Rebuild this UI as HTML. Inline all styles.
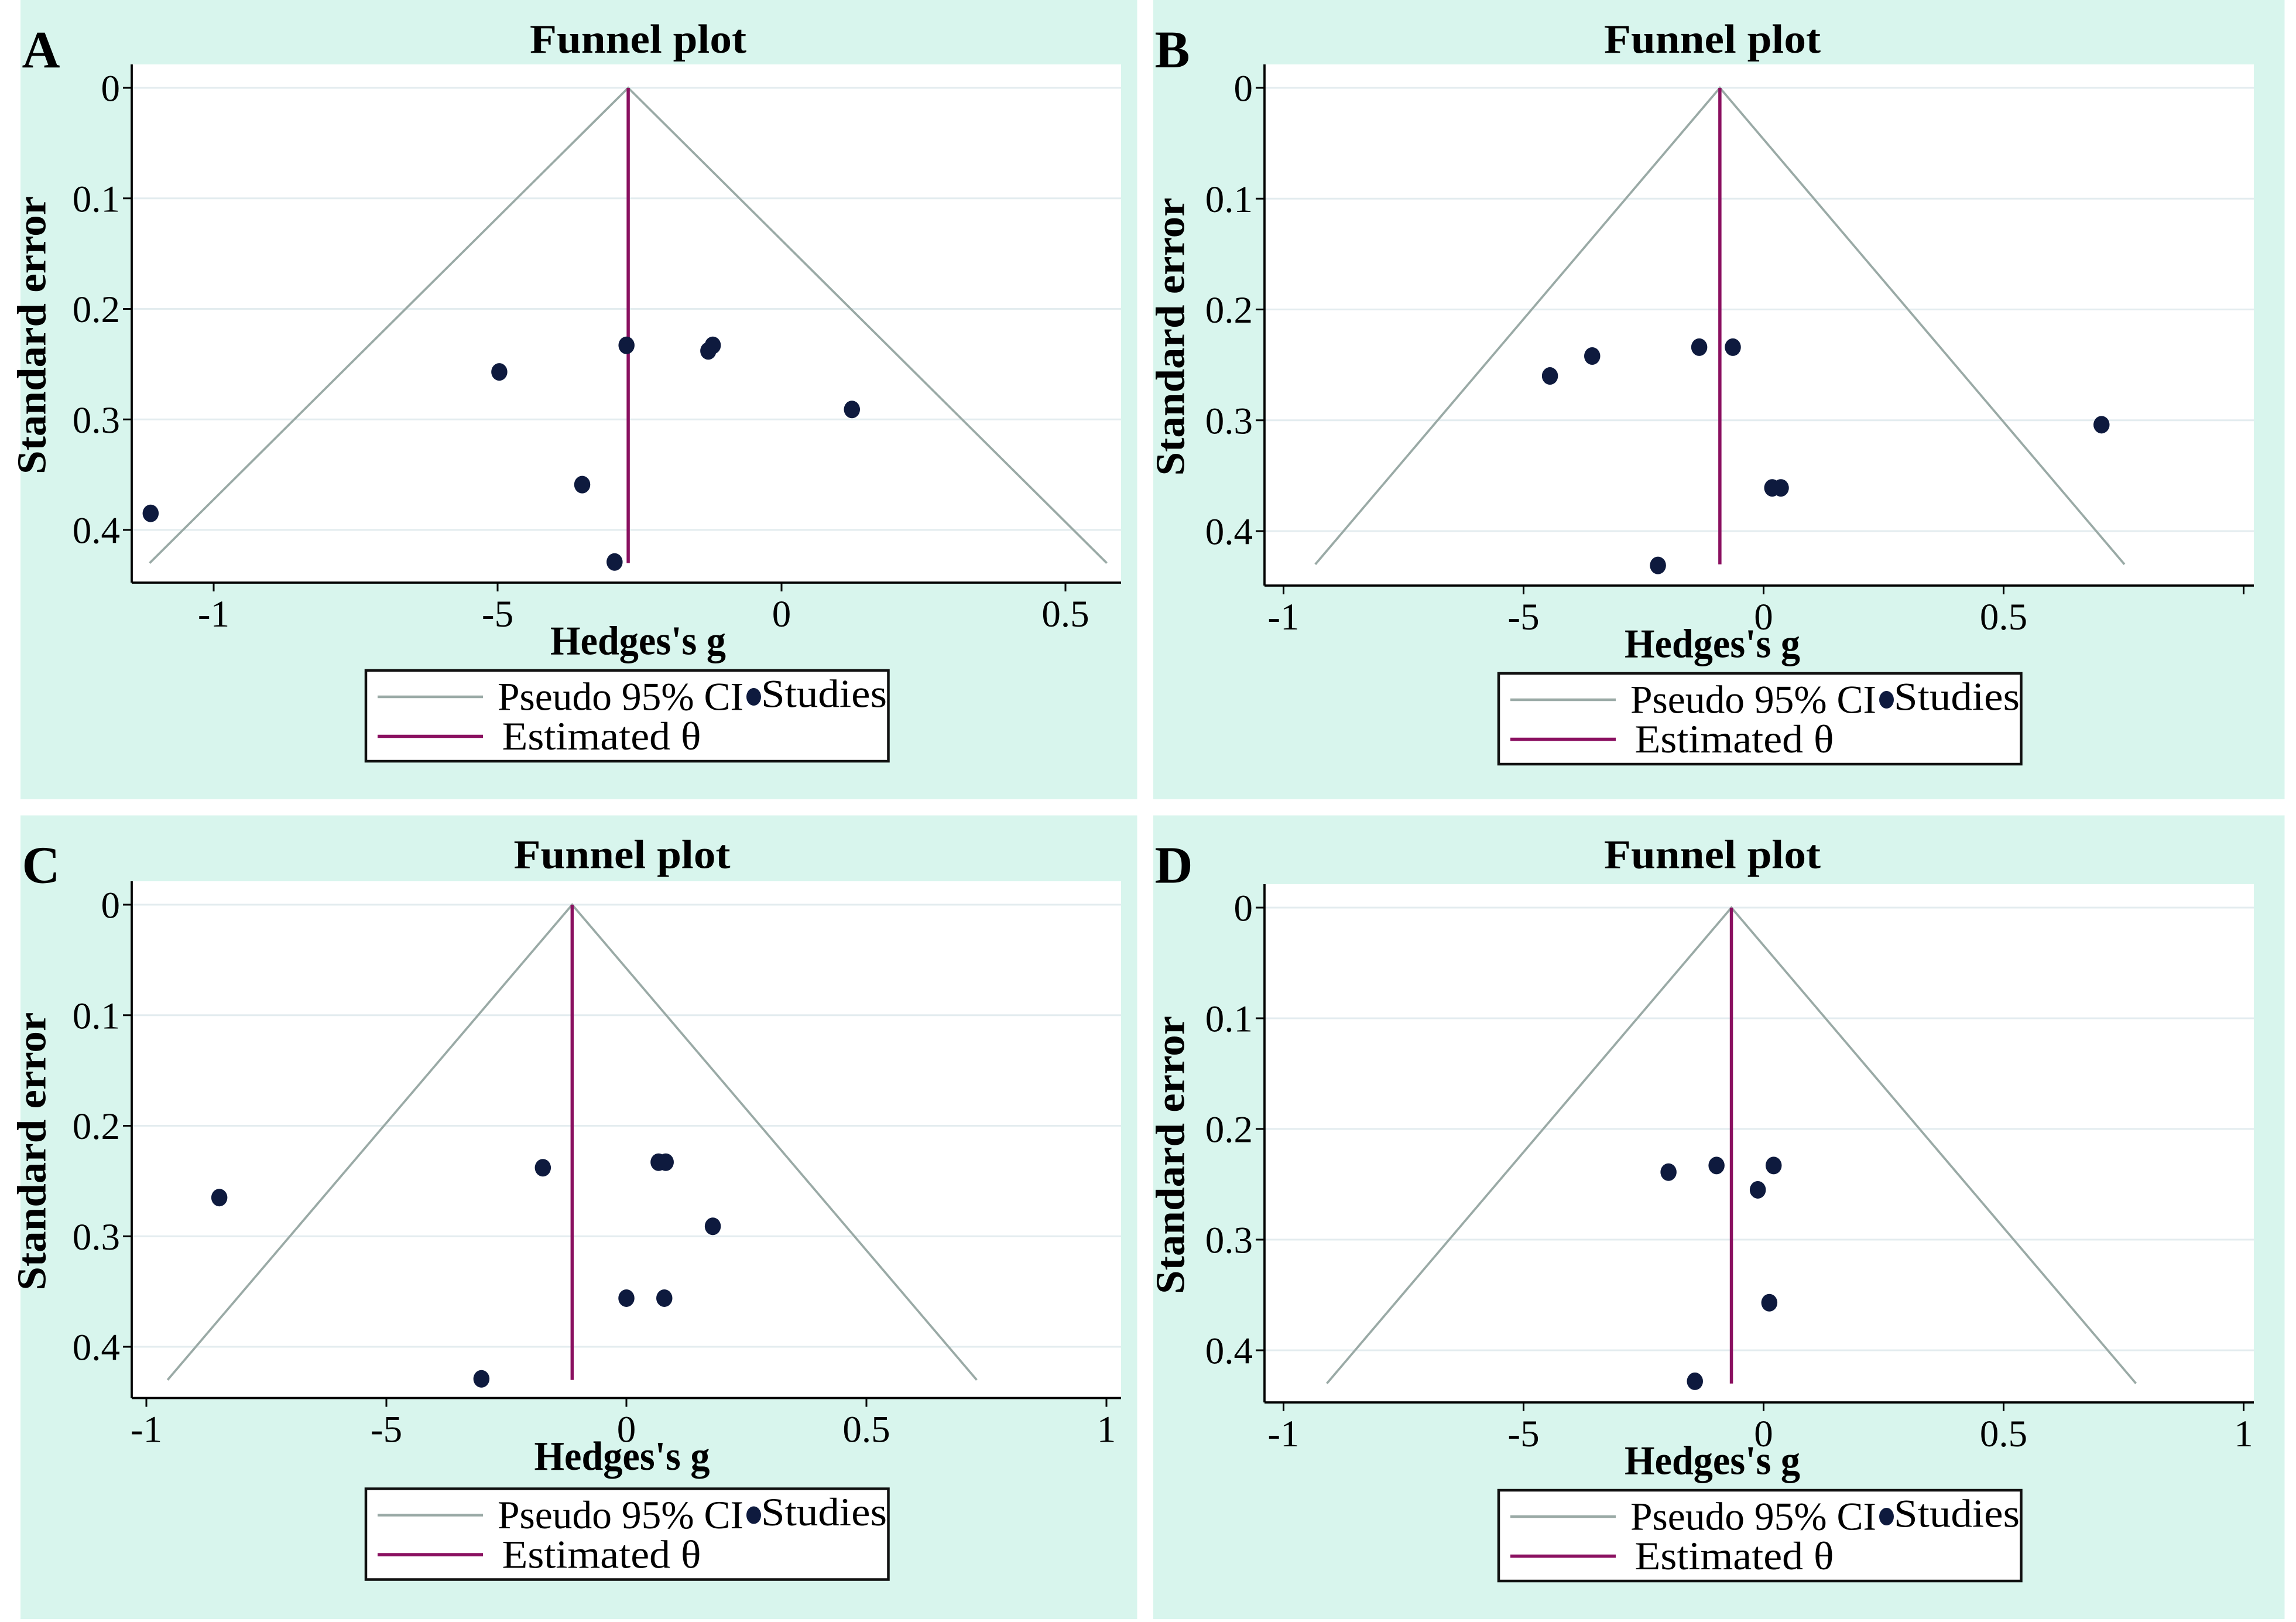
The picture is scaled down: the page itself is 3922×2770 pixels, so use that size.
<!DOCTYPE html>
<html><head><meta charset="utf-8"><style>
html,body{margin:0;padding:0;background:#fff;}
svg{display:block;}
text{font-family:"Liberation Serif",serif;fill:#000;}
</style></head><body>
<svg id="chart" xmlns="http://www.w3.org/2000/svg" width="3922" height="2770" viewBox="0 0 1568.8 1108"></svg>
<script>
// ---- data ----
const panelLetters = ["A","B","C","D"];
const thetaValues = [-0.27, -0.091, -0.113, -0.067];
const seMaxFunnel = 0.43;
const yTicks = [0, 0.1, 0.2, 0.3, 0.4];
const yTickLabels = ["0","0.1","0.2","0.3","0.4"];
const xTicksA = [-1, -0.5, 0, 0.5];
const xTickLabelsA = ["-1","-5","0","0.5"];
const xTicksB = [-1, -0.5, 0, 0.5, 1];
const xTickLabelsB = ["-1","-5","0","0.5",""];
const xTicksC = [-1, -0.5, 0, 0.5, 1];
const xTickLabelsC = ["-1","-5","0","0.5","1"];
const xTicksD = [-1, -0.5, 0, 0.5, 1];
const xTickLabelsD = ["-1","-5","0","0.5","1"];
const gA = [-1.111, -0.497, -0.273, -0.129, -0.121, 0.124, -0.351, -0.294];
const seA = [0.385, 0.257, 0.233, 0.238, 0.233, 0.291, 0.359, 0.429];
const gB = [-0.445, -0.357, -0.134, -0.064, 0.704, 0.018, 0.036, -0.22];
const seB = [0.260, 0.242, 0.234, 0.234, 0.304, 0.361, 0.361, 0.431];
const gC = [-0.848, -0.174, 0.067, 0.082, 0.18, 0.0, 0.079, -0.302];
const seC = [0.265, 0.238, 0.233, 0.233, 0.291, 0.356, 0.356, 0.429];
const gD = [-0.198, -0.098, 0.021, -0.012, 0.012, -0.143];
const seD = [0.239, 0.233, 0.233, 0.255, 0.357, 0.428];

// ---- layout (pixels, not data) ----
const layouts = [
 {bx:14,by:0,bw:763,bh:546, px0:90,px1:766,py0:44,py1:398, x0px:534,xUnit:388, y0px:60,yUnit:755, lx:250,ly:458, cx:436, ylx:22},
 {bx:788,by:0,bw:773,bh:546, px0:864,px1:1540,py0:44,py1:400, x0px:1205,xUnit:328, y0px:60,yUnit:757, lx:1024,ly:460, cx:1170, ylx:800},
 {bx:14,by:557,bw:763,bh:549, px0:90,px1:766,py0:602,py1:955, x0px:428,xUnit:328, y0px:618,yUnit:755, lx:250,ly:1017, cx:425, ylx:22},
 {bx:788,by:557,bw:773,bh:549, px0:864,px1:1540,py0:604,py1:958, x0px:1205,xUnit:328, y0px:620,yUnit:756, lx:1024,ly:1018, cx:1170, ylx:800}
];
const xTickSets = [xTicksA, xTicksB, xTicksC, xTicksD];
const xLabelSets = [xTickLabelsA, xTickLabelsB, xTickLabelsC, xTickLabelsD];
const gSets = [gA, gB, gC, gD];
const seSets = [seA, seB, seC, seD];

const NS = "http://www.w3.org/2000/svg";
const svg = document.getElementById("chart");
function mk(tag, attrs, parent, txt){
  const e = document.createElementNS(NS, tag);
  for (const k in attrs) e.setAttribute(k, attrs[k]);
  if (txt !== undefined) e.textContent = txt;
  (parent || svg).appendChild(e);
  return e;
}
const letterNames = ["a","b","c","d"];
layouts.forEach((L, i) => {
  const xs = v => L.x0px + v * L.xUnit;
  const ys = v => L.y0px + v * L.yUnit;
  const g = mk("g", {});
  
  
  const bg = mk("rect", {x:L.bx, y:L.by, width:L.bw, height:L.bh, fill:"#d8f5ed"}, g);
  
  
  const pa = mk("rect", {x:L.px0, y:L.py0, width:L.px1-L.px0, height:L.py1-L.py0, fill:"#fff"}, g);
  
  
  const lt = mk("text", {x:L.bx+1, y:L.by+46, "font-size":36, "font-weight":"bold"}, g, panelLetters[i]);
  
  
  const tt = mk("text", {x:L.cx, y:L.by+36, "font-size":28, "font-weight":"bold", "text-anchor":"middle", textLength:148, lengthAdjust:"spacingAndGlyphs"}, g, "Funnel plot");
  
  
  yTicks.forEach((t, k) => {
    const y = ys(t);
    const gl = mk("line", {x1:L.px0, x2:L.px1, y1:y, y2:y, stroke:"#e3ecef", "stroke-width":1.2}, g);
    
    
    const tk = mk("line", {x1:L.px0-6, x2:L.px0, y1:y, y2:y, stroke:"#000", "stroke-width":1.2}, g);
    
    
    const tl = mk("text", {x:L.px0-8, y:y+9, "font-size":26, "text-anchor":"end"}, g, yTickLabels[k]);
    
    
  });
  const ya = mk("line", {x1:L.px0, x2:L.px0, y1:L.py0, y2:L.py1, stroke:"#000", "stroke-width":1.5}, g);
  
  
  const xa = mk("line", {x1:L.px0, x2:L.px1, y1:L.py1, y2:L.py1, stroke:"#000", "stroke-width":1.5}, g);
  
  
  xTickSets[i].forEach((t, k) => {
    const x = xs(t);
    const tk = mk("line", {x1:x, x2:x, y1:L.py1, y2:L.py1+6, stroke:"#000", "stroke-width":1.2}, g);
    
    
    const tl = mk("text", {x:x, y:L.py1+30, "font-size":26, "text-anchor":"middle"}, g, xLabelSets[i][k]);
    
    
  });
  const xt = mk("text", {x:L.cx, y:L.py1+49, "font-size":28, "font-weight":"bold", "text-anchor":"middle", textLength:120, lengthAdjust:"spacingAndGlyphs"}, g, "Hedges's g");
  
  
  const ycy = (L.py0 + L.py1) / 2 + 8;
  const yt = mk("text", {x:L.ylx+9, y:ycy, "font-size":28, "font-weight":"bold", "text-anchor":"middle", textLength:190, lengthAdjust:"spacingAndGlyphs", transform:`rotate(-90 ${L.ylx+9} ${ycy})`}, g, "Standard error");
  
  
  const th = thetaValues[i];
  const hw = 1.96 * seMaxFunnel;
  const fp = mk("polyline", {points:`${xs(th-hw)},${ys(seMaxFunnel)} ${xs(th)},${ys(0)} ${xs(th+hw)},${ys(seMaxFunnel)}`, fill:"none", stroke:"#9aaaa6", "stroke-width":1.5}, g);
  
  
  const tl = mk("line", {x1:xs(th), x2:xs(th), y1:ys(0), y2:ys(seMaxFunnel), stroke:"#8a1060", "stroke-width":2.2}, g);
  
  
  gSets[i].forEach((v, k) => {
    const c = mk("ellipse", {cx:xs(v), cy:ys(seSets[i][k]), rx:5.5, ry:6, fill:"#0e1a3e"}, g);
    
    
  });
  const lg = mk("g", {}, g);
  
  
  mk("rect", {x:L.lx, y:L.ly, width:357, height:62, fill:"#fff", stroke:"#111", "stroke-width":1.8}, lg);
  mk("line", {x1:L.lx+8, x2:L.lx+80, y1:L.ly+18, y2:L.ly+18, stroke:"#9aaaa6", "stroke-width":1.8}, lg);
  const t1 = mk("text", {x:L.lx+90, y:L.ly+27, "font-size":27, textLength:168, lengthAdjust:"spacingAndGlyphs"}, lg, "Pseudo 95% CI");
  
  
  mk("ellipse", {cx:L.lx+265, cy:L.ly+18, rx:5, ry:6, fill:"#0e1a3e"}, lg);
  const t2 = mk("text", {x:L.lx+270, y:L.ly+25, "font-size":27, textLength:86, lengthAdjust:"spacingAndGlyphs"}, lg, "Studies");
  
  
  mk("line", {x1:L.lx+8, x2:L.lx+80, y1:L.ly+45, y2:L.ly+45, stroke:"#8a1060", "stroke-width":2.2}, lg);
  const t3 = mk("text", {x:L.lx+93, y:L.ly+54, "font-size":27, textLength:136, lengthAdjust:"spacingAndGlyphs"}, lg, "Estimated θ");
  
  
});
</script>
</body></html>
